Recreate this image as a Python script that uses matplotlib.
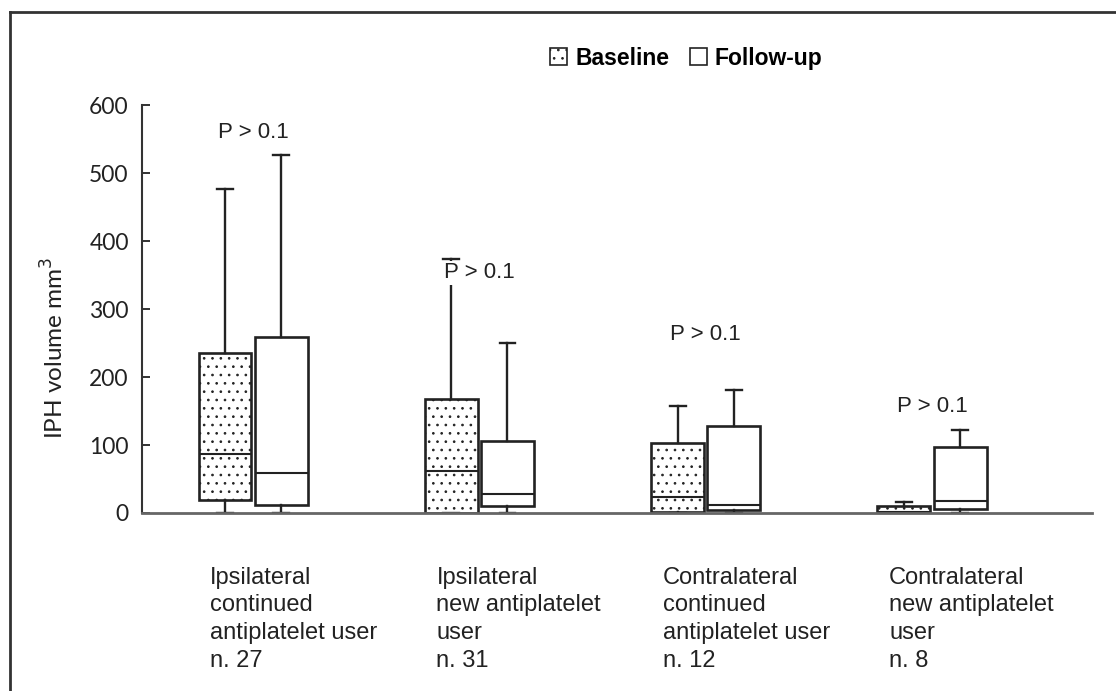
import matplotlib.pyplot as plt
from matplotlib.patches import Patch
from matplotlib.lines import Line2D

groups = [
    "Ipsilateral\ncontinued\nantiplatelet user\nn. 27",
    "Ipsilateral\nnew antiplatelet\nuser\nn. 31",
    "Contralateral\ncontinued\nantiplatelet user\nn. 12",
    "Contralateral\nnew antiplatelet\nuser\nn. 8",
]

# box statistics (mm3)
base_lo = [0, 0, 0, 0]
base_q1 = [19, 0, 1, 0]
base_med = [87, 62, 24, 2]
base_q3 = [235, 168, 103, 10]
base_hi = [476, 374, 157, 16]

fu_lo = [0, 0, 0, 0]
fu_q1 = [12, 10, 4, 6]
fu_med = [59, 28, 12, 17]
fu_q3 = [259, 106, 128, 97]
fu_hi = [527, 250, 181, 122]

p_text = ["P > 0.1", "P > 0.1", "P > 0.1", "P > 0.1"]
p_y = [559, 353, 262, 156]

ink = "#222222"
main_font = ["Liberation Sans", "DejaVu Sans"]
tick_font = ["Lato", "DejaVu Sans"]

plt.rcParams["hatch.linewidth"] = 0.7
plt.rcParams["hatch.color"] = "#333333"

def stats(lo, q1, med, q3, hi):
    return [dict(whislo=a, q1=b, med=c, q3=d, whishi=e, fliers=[])
            for a, b, c, d, e in zip(lo, q1, med, q3, hi)]

fig = plt.figure(figsize=(11.16, 6.91), dpi=100)
ax = fig.add_axes([0.1272, 0.2576, 0.8513, 0.5904])

pos = list(range(1, len(groups) + 1))
off = 0.124
width = 0.234

common = dict(widths=width, showfliers=False, patch_artist=True,
              capwidths=0.07,
              whiskerprops=dict(color=ink, lw=1.7),
              capprops=dict(color=ink, lw=1.7),
              medianprops=dict(color=ink, lw=1.5))

b1 = ax.bxp(stats(base_lo, base_q1, base_med, base_q3, base_hi),
            positions=[p - off for p in pos],
            boxprops=dict(facecolor="white", edgecolor=ink, lw=1.9, hatch=".."),
            **common)
b2 = ax.bxp(stats(fu_lo, fu_q1, fu_med, fu_q3, fu_hi),
            positions=[p + off for p in pos],
            boxprops=dict(facecolor="white", edgecolor=ink, lw=1.9),
            **common)

for p, t, y in zip(pos, p_text, p_y):
    ax.text(p, y, t, ha="center", va="center", fontsize=16,
            family=main_font, color=ink, zorder=5,
            bbox=dict(facecolor="white", edgecolor="none", pad=1))

for p, g in zip(pos, groups):
    ax.text(p - 0.19, -0.132, g, transform=ax.get_xaxis_transform(),
            ha="left", va="top", fontsize=17, family=main_font,
            color=ink, linespacing=1.33)

ax.set_xlim(0.509, 4.707)
ax.set_ylim(0, 600)
ax.set_yticks(range(0, 601, 100))
ax.set_xticks([])
for lab in ax.get_yticklabels():
    lab.set_family(tick_font)
ax.tick_params(axis="y", direction="in", length=6, width=1.3, pad=9.5,
               labelsize=16.5, colors=ink)
ax.spines["top"].set_visible(False)
ax.spines["right"].set_visible(False)
ax.spines["left"].set_color("#333333")
ax.spines["left"].set_linewidth(1.5)
ax.spines["bottom"].set_color("#666666")
ax.spines["bottom"].set_linewidth(2)
ax.set_ylabel("IPH volume mm$^3$", fontsize=17.5, family=tick_font, color=ink)
ax.yaxis.set_label_coords(-0.078, 0.404)

handles = [Patch(facecolor="white", edgecolor=ink, hatch="..", lw=1.2),
           Patch(facecolor="white", edgecolor=ink, lw=1.2)]
fig.legend(handles, ["Baseline", "Follow-up"], loc="center",
           bbox_to_anchor=(0.615, 0.916), ncol=2, frameon=False,
           handlelength=0.75, handleheight=0.75, handletextpad=0.35,
           columnspacing=0.9, prop=dict(family=main_font, weight="bold",
                                        size=16.5))

# outer frame (left and top edges)
fig.add_artist(Line2D([10 / 1116, 10 / 1116], [0, 1 - 12 / 691],
                      color="#333333", lw=2))
fig.add_artist(Line2D([10 / 1116, 1], [1 - 12 / 691, 1 - 12 / 691],
                      color="#333333", lw=2))

fig.savefig("out.png", dpi=100)
